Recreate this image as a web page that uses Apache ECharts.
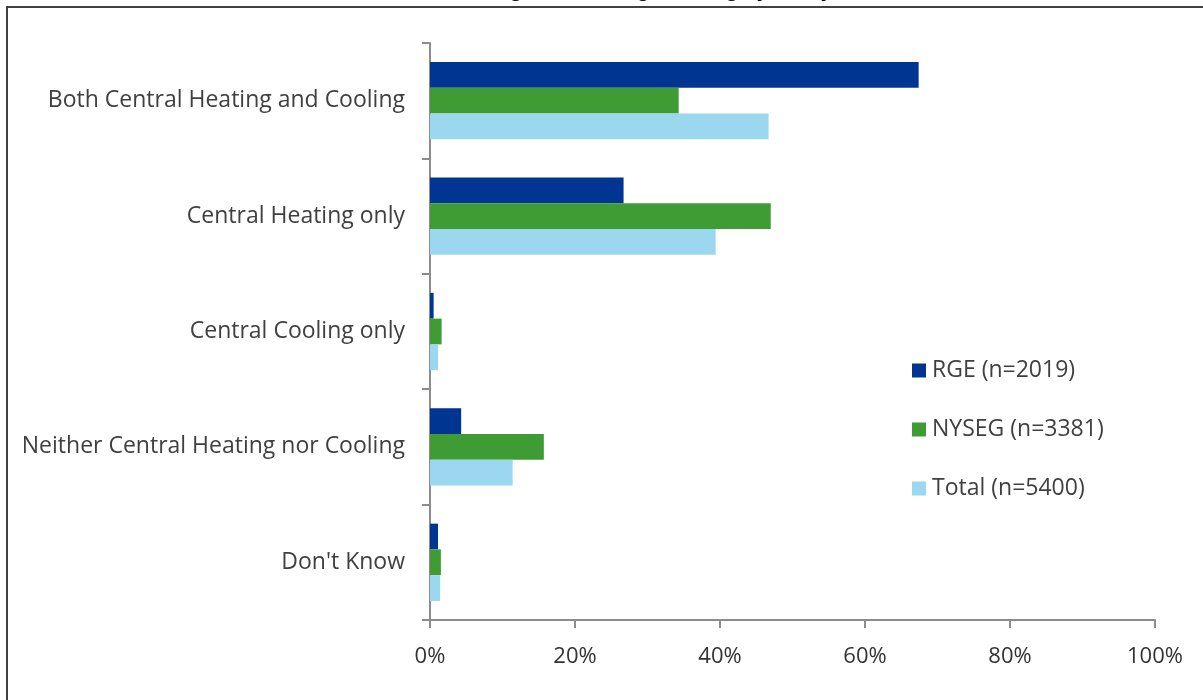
<!DOCTYPE html>
<html>
<head>
<meta charset="utf-8">
<script src="https://cdn.jsdelivr.net/npm/echarts@6/dist/echarts.min.js"></script>
<style>
  html, body { margin: 0; padding: 0; background: #fff; }
  #chart { width: 1203px; height: 700px; }
</style>
</head>
<body>
<div id="chart"></div>
<script>
const categories = [
  'Both Central Heating and Cooling',
  'Central Heating only',
  'Central Cooling only',
  'Neither Central Heating nor Cooling',
  "Don't Know",
];
const seriesNames = ['RGE (n=2019)', 'NYSEG (n=3381)', 'Total (n=5400)'];
const rgeValues = [67.4, 26.7, 0.5, 4.3, 1.1];
const nysegValues = [34.3, 47.0, 1.6, 15.7, 1.5];
const totalValues = [46.7, 39.4, 1.1, 11.4, 1.4];
const colors = ['#003591', '#3f9c35', '#9bd7ef'];

const chart = echarts.init(document.getElementById('chart'));

const makeSeries = (name, data, color) => ({
  name,
  type: 'bar',
  data,
  barGap: '0%',
  barCategoryGap: '33%',
  itemStyle: { color },
  emphasis: { disabled: true },
});

chart.setOption({
  animation: false,
  color: colors,
  graphic: [
    {
      type: 'rect',
      shape: { x: 7, y: 7, width: 1400, height: 900 },
      style: { fill: 'none', stroke: '#404040', lineWidth: 2 },
      silent: true,
    },
    {
      type: 'text',
      left: 'center',
      top: -19,
      style: {
        text: 'Central Heating and Cooling, Heating by Utility',
        font: 'italic bold 21px "Liberation Sans", sans-serif',
        fill: '#000',
      },
    },
  ],
  legend: {
    orient: 'vertical',
    left: 907,
    top: 354,
    itemWidth: 14,
    itemHeight: 14,
    itemGap: 36,
    icon: 'rect',
    textStyle: { fontSize: 23, color: '#404040', fontFamily: 'Open Sans', padding: [0, 0, 0, 1] },
    data: seriesNames,
  },
  grid: { left: 430, right: 48, top: 43, bottom: 80, containLabel: false },
  xAxis: {
    type: 'value',
    min: 0,
    max: 100,
    interval: 20,
    axisLine: { show: true, lineStyle: { color: '#8c8c8c', width: 2 } },
    axisTick: { show: true, length: 8, lineStyle: { color: '#8c8c8c', width: 2 } },
    splitLine: { show: false },
    axisLabel: {
      formatter: '{value}%',
      fontSize: 22,
      color: '#333',
      fontFamily: '"Liberation Sans Narrow", "Open Sans", sans-serif',
      margin: 26,
    },
  },
  yAxis: {
    type: 'category',
    inverse: true,
    data: categories,
    axisLine: { show: true, lineStyle: { color: '#8c8c8c', width: 2 } },
    axisTick: { show: true, length: 8, lineStyle: { color: '#8c8c8c', width: 2 } },
    axisLabel: {
      fontSize: 23,
      color: '#404040',
      fontFamily: 'Open Sans',
      margin: 25,
      padding: [4, 0, 0, 0],
    },
  },
  series: [
    makeSeries(seriesNames[0], rgeValues, colors[0]),
    makeSeries(seriesNames[1], nysegValues, colors[1]),
    makeSeries(seriesNames[2], totalValues, colors[2]),
  ],
});
</script>
</body>
</html>
